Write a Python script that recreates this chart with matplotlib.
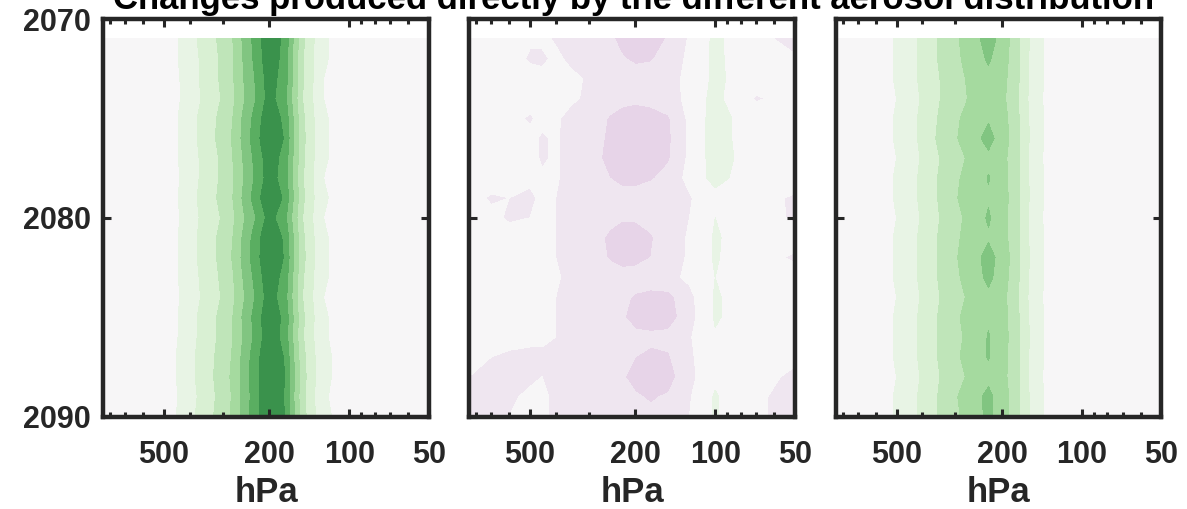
import numpy as np
import matplotlib.pyplot as plt
from matplotlib.colors import Normalize
from matplotlib.ticker import FixedLocator, NullFormatter

plt.rcParams['font.family'] = ['Liberation Sans', 'DejaVu Sans']
plt.rcParams['font.weight'] = 'bold'

# pressure levels (hPa) and years of the contour grid
pressure = [850, 700, 600, 500, 450, 400, 350, 300, 275, 250, 225, 200, 175, 150, 125, 100, 70, 50]
years = [2071, 2072, 2073, 2074, 2075, 2076, 2077, 2078, 2079, 2080,
         2081, 2082, 2083, 2084, 2085, 2086, 2087, 2088, 2089, 2090]

# left panel
change_a = [
    [0, 0, 0, 0.01, 0.04, 0.11, 0.19, 0.28, 0.35, 0.47, 0.59, 0.73, 0.62, 0.27, 0.06, 0.01, 0, 0],
    [0, 0, 0, 0.01, 0.04, 0.10, 0.18, 0.27, 0.34, 0.46, 0.58, 0.72, 0.61, 0.26, 0.06, 0.01, 0, 0],
    [0, 0, 0, 0.00, 0.03, 0.10, 0.18, 0.27, 0.34, 0.45, 0.56, 0.70, 0.60, 0.26, 0.05, 0.01, 0, 0],
    [0, 0, 0, 0.00, 0.03, 0.09, 0.17, 0.26, 0.33, 0.44, 0.55, 0.69, 0.58, 0.25, 0.05, 0.00, 0, 0],
    [0, 0, 0, 0.01, 0.04, 0.11, 0.19, 0.28, 0.35, 0.47, 0.59, 0.73, 0.62, 0.27, 0.06, 0.01, 0, 0],
    [0, 0, 0, 0.01, 0.04, 0.11, 0.19, 0.29, 0.36, 0.48, 0.61, 0.74, 0.64, 0.28, 0.06, 0.01, 0, 0],
    [0, 0, 0, 0.01, 0.04, 0.10, 0.18, 0.27, 0.35, 0.46, 0.58, 0.71, 0.61, 0.27, 0.06, 0.01, 0, 0],
    [0, 0, 0, 0.00, 0.03, 0.10, 0.18, 0.27, 0.34, 0.45, 0.57, 0.70, 0.60, 0.26, 0.05, 0.01, 0, 0],
    [0, 0, 0, 0.01, 0.04, 0.11, 0.19, 0.28, 0.35, 0.47, 0.60, 0.74, 0.63, 0.27, 0.06, 0.01, 0, 0],
    [0, 0, 0, 0.00, 0.03, 0.10, 0.18, 0.26, 0.33, 0.44, 0.55, 0.69, 0.58, 0.25, 0.05, 0.01, 0, 0],
    [0, 0, 0, 0.01, 0.04, 0.11, 0.19, 0.28, 0.35, 0.47, 0.60, 0.74, 0.63, 0.27, 0.06, 0.01, 0, 0],
    [0, 0, 0, 0.01, 0.04, 0.11, 0.19, 0.28, 0.36, 0.48, 0.61, 0.74, 0.64, 0.28, 0.06, 0.01, 0, 0],
    [0, 0, 0, 0.01, 0.04, 0.10, 0.18, 0.27, 0.34, 0.46, 0.58, 0.72, 0.61, 0.26, 0.06, 0.01, 0, 0],
    [0, 0, 0, 0.00, 0.03, 0.10, 0.17, 0.26, 0.33, 0.44, 0.56, 0.70, 0.59, 0.25, 0.05, 0.01, 0, 0],
    [0, 0, 0, 0.01, 0.04, 0.11, 0.19, 0.28, 0.35, 0.47, 0.59, 0.73, 0.62, 0.27, 0.06, 0.01, 0, 0],
    [0, 0, 0, 0.01, 0.04, 0.11, 0.19, 0.28, 0.35, 0.46, 0.58, 0.72, 0.61, 0.26, 0.06, 0.01, 0, 0],
    [0, 0, 0, 0.01, 0.05, 0.12, 0.20, 0.29, 0.36, 0.48, 0.61, 0.74, 0.64, 0.28, 0.07, 0.01, 0, 0],
    [0, 0, 0, 0.01, 0.05, 0.12, 0.20, 0.30, 0.37, 0.49, 0.62, 0.74, 0.65, 0.29, 0.07, 0.01, 0, 0],
    [0, 0, 0, 0.01, 0.04, 0.11, 0.19, 0.29, 0.36, 0.48, 0.61, 0.74, 0.64, 0.28, 0.06, 0.01, 0, 0],
    [0, 0, 0, 0.01, 0.05, 0.12, 0.20, 0.30, 0.37, 0.49, 0.62, 0.74, 0.65, 0.29, 0.07, 0.01, 0, 0],
]

# middle panel
change_b = [
    [0, 0, -0.02, -0.04, -0.03, -0.06, -0.08, -0.09, -0.10, -0.13, -0.18, -0.21, -0.20, -0.14, -0.04, 0.07, -0.02, -0.08],
    [0, 0, -0.01, -0.06, -0.07, -0.03, -0.07, -0.09, -0.10, -0.11, -0.14, -0.17, -0.16, -0.11, -0.03, 0.07, -0.01, -0.04],
    [0, 0, 0, -0.02, -0.02, -0.03, -0.03, -0.06, -0.08, -0.09, -0.10, -0.10, -0.10, -0.08, -0.03, 0.07, 0.0, -0.03],
    [0, 0, -0.01, -0.02, -0.02, -0.03, -0.04, -0.06, -0.08, -0.10, -0.12, -0.13, -0.12, -0.10, -0.02, 0.08, -0.06, -0.02],
    [0, 0, -0.02, -0.06, -0.03, -0.04, -0.07, -0.09, -0.12, -0.16, -0.19, -0.20, -0.19, -0.16, -0.03, 0.09, 0.0, -0.01],
    [0, 0, -0.01, -0.03, -0.06, -0.04, -0.08, -0.10, -0.13, -0.17, -0.20, -0.21, -0.20, -0.17, -0.03, 0.09, 0.0, -0.01],
    [0, 0, -0.01, -0.02, -0.06, -0.04, -0.08, -0.11, -0.14, -0.18, -0.21, -0.21, -0.19, -0.16, -0.03, 0.09, 0.01, -0.01],
    [0, -0.01, -0.02, -0.03, -0.04, -0.04, -0.08, -0.10, -0.12, -0.15, -0.18, -0.18, -0.16, -0.12, -0.02, 0.08, 0.0, -0.01],
    [-0.02, -0.06, -0.05, -0.07, -0.03, -0.05, -0.08, -0.09, -0.10, -0.11, -0.11, -0.11, -0.10, -0.08, -0.06, 0.02, -0.02, -0.06],
    [-0.01, -0.03, -0.06, -0.05, -0.03, -0.05, -0.08, -0.09, -0.10, -0.12, -0.14, -0.14, -0.12, -0.09, -0.05, 0.05, -0.01, -0.06],
    [0, -0.01, -0.02, -0.03, -0.02, -0.05, -0.08, -0.10, -0.13, -0.17, -0.20, -0.19, -0.16, -0.10, -0.04, 0.06, 0.0, -0.02],
    [0, 0, -0.01, -0.02, -0.03, -0.05, -0.08, -0.10, -0.12, -0.16, -0.19, -0.18, -0.15, -0.09, -0.04, 0.06, -0.02, -0.06],
    [0, 0, -0.01, -0.02, -0.03, -0.04, -0.07, -0.08, -0.09, -0.10, -0.11, -0.11, -0.10, -0.08, -0.03, 0.05, 0.0, -0.02],
    [0, 0, -0.02, -0.03, -0.04, -0.05, -0.07, -0.09, -0.10, -0.11, -0.13, -0.16, -0.18, -0.18, -0.08, 0.06, 0.0, -0.01],
    [0, 0, -0.02, -0.04, -0.04, -0.05, -0.07, -0.09, -0.10, -0.11, -0.14, -0.18, -0.20, -0.20, -0.09, 0.06, 0.0, -0.01],
    [0, -0.01, -0.03, -0.04, -0.04, -0.05, -0.08, -0.09, -0.10, -0.11, -0.12, -0.13, -0.13, -0.12, -0.06, 0.04, -0.01, -0.02],
    [-0.03, -0.05, -0.06, -0.06, -0.06, -0.07, -0.08, -0.09, -0.10, -0.11, -0.12, -0.15, -0.17, -0.16, -0.07, 0.03, -0.02, -0.04],
    [-0.05, -0.07, -0.07, -0.06, -0.05, -0.07, -0.09, -0.10, -0.11, -0.12, -0.14, -0.18, -0.20, -0.19, -0.08, 0.03, -0.03, -0.06],
    [-0.07, -0.08, -0.06, -0.04, -0.04, -0.06, -0.08, -0.09, -0.10, -0.11, -0.12, -0.14, -0.16, -0.14, -0.06, 0.06, -0.04, -0.07],
    [-0.06, -0.07, -0.05, -0.03, -0.04, -0.06, -0.08, -0.10, -0.11, -0.12, -0.13, -0.14, -0.13, -0.10, -0.05, 0.06, -0.04, -0.07],
]

# right panel
change_c = [
    [0, 0, 0.02, 0.055, 0.11, 0.17, 0.25, 0.33, 0.38, 0.43, 0.49, 0.42, 0.28, 0.09, 0.0, 0, 0, 0],
    [0, 0, 0.02, 0.055, 0.11, 0.17, 0.25, 0.32, 0.37, 0.42, 0.46, 0.41, 0.27, 0.09, 0.0, 0, 0, 0],
    [0, 0, 0.02, 0.055, 0.11, 0.17, 0.24, 0.31, 0.35, 0.40, 0.43, 0.39, 0.27, 0.09, 0.0, 0, 0, 0],
    [0, 0, 0.02, 0.05, 0.10, 0.16, 0.24, 0.30, 0.34, 0.39, 0.42, 0.38, 0.26, 0.08, 0.0, 0, 0, 0],
    [0, 0, 0.02, 0.055, 0.11, 0.17, 0.25, 0.33, 0.37, 0.41, 0.44, 0.40, 0.27, 0.09, 0.0, 0, 0, 0],
    [0, 0, 0.02, 0.055, 0.11, 0.17, 0.26, 0.34, 0.38, 0.43, 0.48, 0.41, 0.28, 0.09, 0.0, 0, 0, 0],
    [0, 0, 0.02, 0.05, 0.10, 0.16, 0.24, 0.31, 0.35, 0.40, 0.43, 0.39, 0.27, 0.08, 0.0, 0, 0, 0],
    [0, 0, 0.02, 0.055, 0.11, 0.17, 0.25, 0.33, 0.37, 0.41, 0.455, 0.40, 0.27, 0.09, 0.0, 0, 0, 0],
    [0, 0, 0.02, 0.055, 0.11, 0.17, 0.25, 0.34, 0.38, 0.42, 0.44, 0.40, 0.28, 0.09, 0.0, 0, 0, 0],
    [0, 0, 0.02, 0.05, 0.10, 0.16, 0.24, 0.32, 0.36, 0.41, 0.46, 0.40, 0.27, 0.08, 0.0, 0, 0, 0],
    [0, 0, 0.02, 0.055, 0.11, 0.17, 0.25, 0.33, 0.37, 0.42, 0.44, 0.40, 0.27, 0.09, 0.0, 0, 0, 0],
    [0, 0, 0.02, 0.055, 0.11, 0.17, 0.25, 0.34, 0.38, 0.43, 0.48, 0.42, 0.28, 0.09, 0.0, 0, 0, 0],
    [0, 0, 0.02, 0.055, 0.11, 0.17, 0.25, 0.33, 0.37, 0.42, 0.47, 0.41, 0.27, 0.09, 0.0, 0, 0, 0],
    [0, 0, 0.02, 0.05, 0.10, 0.16, 0.24, 0.31, 0.35, 0.40, 0.43, 0.39, 0.26, 0.08, 0.0, 0, 0, 0],
    [0, 0, 0.02, 0.055, 0.11, 0.17, 0.25, 0.33, 0.37, 0.41, 0.44, 0.40, 0.27, 0.09, 0.0, 0, 0, 0],
    [0, 0, 0.02, 0.055, 0.11, 0.17, 0.25, 0.32, 0.36, 0.41, 0.455, 0.40, 0.28, 0.09, 0.0, 0, 0, 0],
    [0, 0, 0.02, 0.055, 0.11, 0.17, 0.25, 0.33, 0.37, 0.42, 0.455, 0.40, 0.27, 0.09, 0.0, 0, 0, 0],
    [0, 0, 0.02, 0.05, 0.10, 0.16, 0.24, 0.31, 0.35, 0.40, 0.43, 0.39, 0.27, 0.08, 0.0, 0, 0, 0],
    [0, 0, 0.02, 0.055, 0.11, 0.17, 0.25, 0.34, 0.38, 0.43, 0.47, 0.41, 0.28, 0.09, 0.0, 0, 0, 0],
    [0, 0, 0.02, 0.055, 0.11, 0.17, 0.25, 0.33, 0.37, 0.42, 0.47, 0.41, 0.28, 0.09, 0.0, 0, 0, 0],
]

title = "Changes produced directly by the different aerosol distribution"
xticks = [500, 200, 100, 50]
xminor = [800, 700, 600, 400, 300, 90, 80, 70, 60]
yticks = [2070, 2080, 2090]

dark = '#262626'
levels = np.arange(-1.05, 1.06, 0.1)
norm = Normalize(vmin=-1.0, vmax=1.0)

fig = plt.figure(figsize=(11.87, 5.09), dpi=100)

lefts = [0.0868, 0.3951, 0.7039]
panels = [change_a, change_b, change_c]

for i, (left, z) in enumerate(zip(lefts, panels)):
    ax = fig.add_axes([left, 0.1817, 0.2746, 0.7809])
    ax.contourf(pressure, years, np.array(z), levels=levels, cmap='PRGn', norm=norm)
    ax.set_xscale('log')
    ax.set_xlim(850, 50)
    ax.set_ylim(2090, 2070)

    ax.xaxis.set_major_locator(FixedLocator(xticks))
    ax.xaxis.set_minor_locator(FixedLocator(xminor))
    ax.xaxis.set_minor_formatter(NullFormatter())
    ax.set_xticklabels([str(t) for t in xticks])
    ax.set_yticks(yticks)
    if i == 0:
        ax.set_yticklabels([str(t) for t in yticks])
    else:
        ax.set_yticklabels([])

    ax.tick_params(which='both', direction='in', top=True, right=True,
                   color=dark, labelcolor=dark, labelsize=22)
    ax.tick_params(which='major', length=6, width=2.2)
    ax.tick_params(which='minor', length=3.5, width=2.2)
    ax.tick_params(axis='x', pad=17)
    ax.tick_params(axis='y', pad=9)

    for sp in ax.spines.values():
        sp.set_linewidth(3.2)
        sp.set_color(dark)

    ax.set_xlabel('hPa', fontsize=25, fontweight='bold', color=dark, labelpad=4)

fig.text(0.534, 0.982, title, ha='center', va='baseline',
         fontsize=25, fontweight='bold', color='black')

fig.savefig('out.png', dpi=100)
